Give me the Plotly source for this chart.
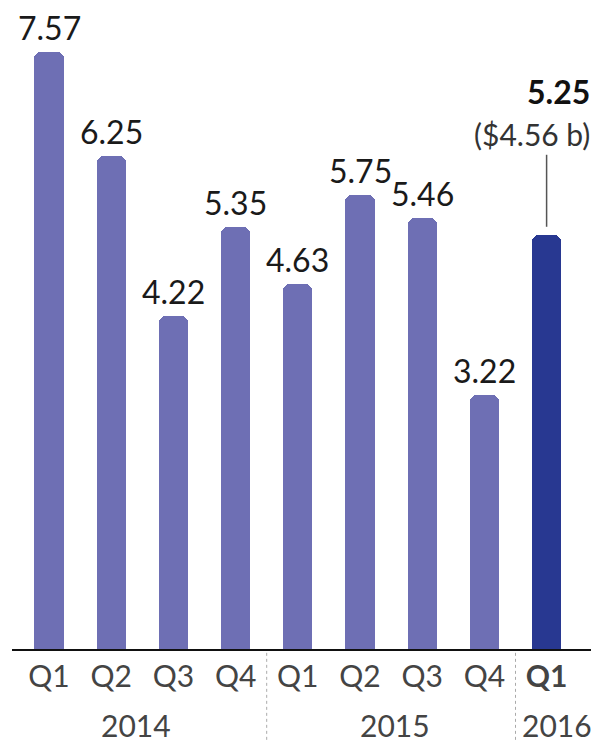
import plotly.graph_objects as go

quarters = ["Q1", "Q2", "Q3", "Q4", "Q1", "Q2", "Q3", "Q4", "Q1"]
years = ["2014", "2015", "2016"]
year_pos = [1.4, 5.56, 8.17]
values = [7.57, 6.25, 4.22, 5.35, 4.63, 5.75, 5.46, 3.22, 5.25]
labels = ["7.57", "6.25", "4.22", "5.35", "4.63", "5.75", "5.46", "3.22", ""]
last_label = "5.25"
last_sub = "($4.56 b)"

x = list(range(len(values)))
colors = ["#6e6fb4"] * (len(values) - 1) + ["#283891"]
FONT = "Lato, 'Source Sans Pro', sans-serif"

# page body has an 8px margin: figure sized to fit the 599x742 window
W, H = 591, 734
PLOT_H = 641  # px
YMAX = PLOT_H / 78.9

fig = go.Figure()
fig.add_trace(go.Bar(
    x=x, y=values, width=0.47,
    marker=dict(color=colors, cornerradius=7, line=dict(width=0)),
    hoverinfo="skip",
))

ann = []
for xi, v, t in zip(x, values, labels):
    if t:
        ann.append(dict(x=xi, y=v, text=t, showarrow=False, yanchor="bottom",
                        yshift=4, borderpad=0,
                        font=dict(family=FONT, size=32, color="#1a1a1a")))

# Last bar callout
ann.append(dict(x=8.73, xref="x", y=values[-1], text="<b>" + last_label + "</b>",
                showarrow=False, xanchor="right", yanchor="bottom", yshift=122,
                font=dict(family=FONT, size=32, color="#111")))
ann.append(dict(x=8.73, xref="x", y=values[-1], text=last_sub,
                showarrow=False, xanchor="right", yanchor="bottom", yshift=81,
                font=dict(family=FONT, size=30, color="#333")))

for yr, xp in zip(years, year_pos):
    ann.append(dict(x=xp, y=-0.119, yref="paper", text=yr, showarrow=False,
                    yanchor="middle", font=dict(family=FONT, size=30, color="#444")))

shapes = [dict(type="line", xref="x", yref="y", x0=8, x1=8,
               y0=values[-1] + 8 / 78.9, y1=values[-1] + 80 / 78.9,
               line=dict(color="#555", width=1.5))]
for xs in [3.5, 7.5]:
    shapes.append(dict(type="line", xref="x", yref="paper", x0=xs, x1=xs,
                       y0=-0.006, y1=-0.145, line=dict(color="#aaa", width=1, dash="dot")))

ticktext = quarters[:-1] + ["<b>" + quarters[-1] + "</b>"]

fig.update_layout(
    width=W, height=H,
    margin=dict(l=4, r=7, t=0, b=H - PLOT_H),
    paper_bgcolor="white", plot_bgcolor="white",
    showlegend=False,
    bargap=0,
    xaxis=dict(range=[-0.595, 8.73], tickvals=x, ticktext=ticktext,
               tickfont=dict(family=FONT, size=30, color="#444"),
               showline=True, linecolor="#111", linewidth=2,
               showgrid=False, zeroline=False, ticks="", fixedrange=True),
    yaxis=dict(range=[0, YMAX], visible=False, showgrid=False, zeroline=False,
               fixedrange=True),
    annotations=ann,
    shapes=shapes,
)

fig.write_html("out.html")
